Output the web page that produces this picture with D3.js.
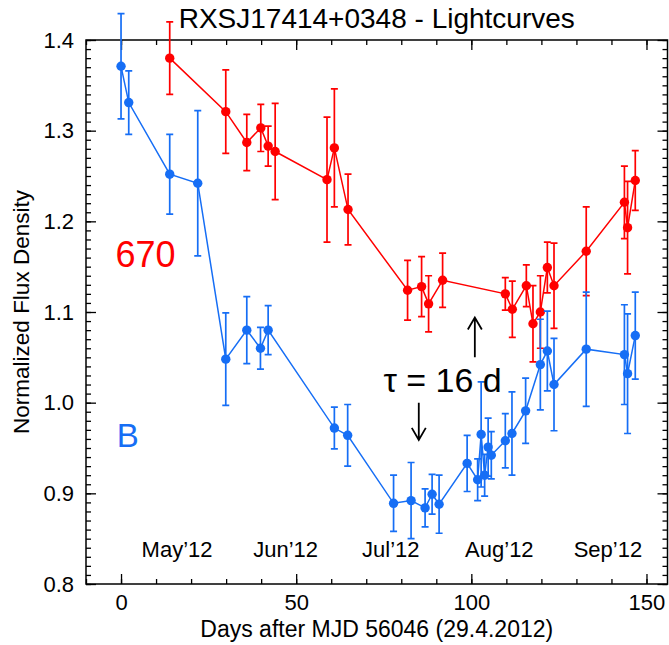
<!DOCTYPE html>
<html>
<head>
<meta charset="utf-8">
<script src="https://cdn.jsdelivr.net/npm/d3@7"></script>
<style>
  body { margin: 0; background: #fff; }
  svg { display: block; font-family: "Liberation Sans", Arial, sans-serif; }
</style>
</head>
<body>
<div id="plot"></div>
<script>
const w = 669;
const h = 645;

//Data (days after MJD 56046)
const bDays = [0, 2.2, 13.9, 21.9, 29.9, 35.9, 39.8, 42, 60.9, 64.7, 77.8, 82.8, 86.8, 88.8, 90.8, 98.8, 101.8, 102.8, 103.8, 104.8, 105.7, 109.7, 111.6, 115.5, 119.7, 121.7, 123.6, 132.8, 143.7, 144.6, 146.8];
const bFlux = [1.371, 1.331, 1.252, 1.242, 1.048, 1.080, 1.060, 1.080, 0.972, 0.964, 0.889, 0.892, 0.884, 0.899, 0.888, 0.933, 0.915, 0.965, 0.920, 0.951, 0.942, 0.958, 0.966, 0.991, 1.042, 1.057, 1.020, 1.059, 1.053, 1.032, 1.074];
const bErr = [0.058, 0.035, 0.044, 0.080, 0.051, 0.037, 0.023, 0.027, 0.023, 0.034, 0.031, 0.042, 0.021, 0.022, 0.032, 0.031, 0.023, 0.058, 0.023, 0.032, 0.026, 0.030, 0.046, 0.036, 0.050, 0.044, 0.051, 0.063, 0.055, 0.066, 0.048];

const rDays = [13.9, 29.9, 35.9, 39.9, 42, 44, 58.8, 60.9, 64.8, 81.8, 85.8, 87.8, 91.8, 109.7, 111.7, 115.7, 117.6, 119.7, 121.7, 123.6, 132.8, 143.7, 144.6, 146.8];
const rFlux = [1.380, 1.321, 1.287, 1.303, 1.283, 1.277, 1.246, 1.281, 1.213, 1.124, 1.128, 1.109, 1.135, 1.120, 1.103, 1.129, 1.087, 1.100, 1.149, 1.129, 1.167, 1.221, 1.193, 1.245];
const rErr = [0.040, 0.046, 0.031, 0.026, 0.022, 0.053, 0.069, 0.065, 0.039, 0.033, 0.033, 0.031, 0.030, 0.018, 0.031, 0.023, 0.042, 0.040, 0.028, 0.047, 0.049, 0.040, 0.051, 0.033];

const xTicks = [0, 50, 100, 150];
const yTicks = [0.8, 0.9, 1.0, 1.1, 1.2, 1.3, 1.4];
const months = ["May\u201912", "Jun\u201912", "Jul\u201912", "Aug\u201912", "Sep\u201912"];
const monthDays = [16, 47, 77, 108, 139];
const lagDays = [85, 101]; // tau = 16 d

const red = "#ff0000";
const blue = "#166ef5";

const m = {left: 86, right: 1.5, top: 40, bottom: 61};

const svg = d3.select('#plot').append('svg').attr('width', w).attr('height', h);

const x = d3.scaleLinear().domain([-10, 156]).range([m.left, w - m.right]);
const y = d3.scaleLinear().domain([0.8, 1.4]).range([h - m.bottom, m.top]);

//Axes: major ticks pointing in, minor every 10 d / 0.01
const minorX = d3.range(-10, 157, 10);
const minorY = d3.range(80, 141).map(d => d / 100);

function drawAxis(axis, tr, size, vals, fmt, pad){
  const g = svg.append('g').attr('transform', tr)
    .call(axis.tickValues(vals).tickSizeInner(size).tickSizeOuter(0).tickPadding(pad || 0).tickFormat(fmt || ''));
  g.select('.domain').remove();
  g.selectAll('line').attr('stroke', '#000').attr('stroke-width', 1.3);
  g.selectAll('text').attr('font-size', 22).attr('fill', '#000');
  g.attr('font-family', null).attr('font-size', null);
  return g;
}

const bottomTr = `translate(0,${h - m.bottom})`;
const topTr = `translate(0,${m.top})`;
const leftTr = `translate(${m.left},0)`;
const rightTr = `translate(${w - m.right},0)`;
drawAxis(d3.axisBottom(x), bottomTr, -5, minorX);
drawAxis(d3.axisBottom(x), bottomTr, -10, xTicks, d3.format('d'), 10.5);
drawAxis(d3.axisTop(x), topTr, -5, minorX);
drawAxis(d3.axisTop(x), topTr, -10, xTicks);

drawAxis(d3.axisLeft(y), leftTr, -5, minorY);
drawAxis(d3.axisLeft(y), leftTr, -10, yTicks, d3.format('.1f'), 12);
drawAxis(d3.axisRight(y), rightTr, -5, minorY);
drawAxis(d3.axisRight(y), rightTr, -10, yTicks);

svg.append('rect')
  .attr('x', m.left).attr('y', m.top)
  .attr('width', w - m.right - m.left).attr('height', h - m.bottom - m.top)
  .attr('fill', 'none').attr('stroke', '#000').attr('stroke-width', 1.5);

//Month labels
svg.append('g').selectAll('text')
  .data(months)
  .join('text')
  .attr('x', (d, i) => x(monthDays[i]))
  .attr('y', y(0.8) - 27)
  .attr('text-anchor', 'middle')
  .attr('font-size', 22)
  .text(d => d);

//Lightcurves
function drawSeries(days, flux, err, col){
  const data = days.map((d, i) => ({t: d, f: flux[i], e: err[i]}));
  const g = svg.append('g');

  g.append('path')
    .datum(data)
    .attr('fill', 'none')
    .attr('stroke', col)
    .attr('stroke-width', 1.5)
    .attr('d', d3.line().x(d => x(d.t)).y(d => y(d.f)));

  g.selectAll('.err')
    .data(data)
    .join('path')
    .attr('class', 'err')
    .attr('fill', 'none')
    .attr('stroke', col)
    .attr('stroke-width', 1.7)
    .attr('d', d => {
      const cx = x(d.t), y0 = y(d.f - d.e), y1 = y(d.f + d.e);
      return `M${cx},${y0}V${y1}M${cx - 3.5},${y0}H${cx + 3.5}M${cx - 3.5},${y1}H${cx + 3.5}`;
    });

  g.selectAll('circle')
    .data(data)
    .join('circle')
    .attr('cx', d => x(d.t))
    .attr('cy', d => y(d.f))
    .attr('r', 4.7)
    .attr('fill', col);
}

drawSeries(rDays, rFlux, rErr, red);
drawSeries(bDays, bFlux, bErr, blue);

//Band labels
svg.append('text').attr('x', x(-1.6)).attr('y', y(1.15))
  .attr('font-size', 36).attr('fill', red).text('670');
svg.append('text').attr('x', x(-1.2)).attr('y', y(0.951))
  .attr('font-size', 33).attr('fill', blue).text('B');

//Time lag annotation
svg.append('text').attr('x', x(74.9)).attr('y', y(1.012))
  .attr('font-size', 34).text('\u03c4 = 16 d');

function arrow(t, from, to){
  const xa = x(t), ya = y(from), yb = y(to);
  const s = yb > ya ? -1 : 1;
  svg.append('path')
    .attr('fill', 'none').attr('stroke', '#000').attr('stroke-width', 1.8)
    .attr('d', `M${xa},${ya}V${yb}M${xa - 7},${yb + s * 12}L${xa},${yb}L${xa + 7},${yb + s * 12}`);
}
arrow(lagDays[0], 1.0, 0.959);
arrow(lagDays[1], 1.050, 1.094);

//Titles
svg.append('text').attr('x', (m.left + w - m.right) / 2).attr('y', 28)
  .attr('text-anchor', 'middle').attr('font-size', 28)
  .text('RXSJ17414+0348 - Lightcurves');
svg.append('text').attr('x', (m.left + w - m.right) / 2).attr('y', 637)
  .attr('text-anchor', 'middle').attr('font-size', 23)
  .text('Days after MJD 56046 (29.4.2012)');
svg.append('text')
  .attr('transform', `translate(29,${(m.top + h - m.bottom) / 2}) rotate(-90)`)
  .attr('text-anchor', 'middle').attr('font-size', 22.5)
  .text('Normalized Flux Density');
</script>
</body>
</html>
